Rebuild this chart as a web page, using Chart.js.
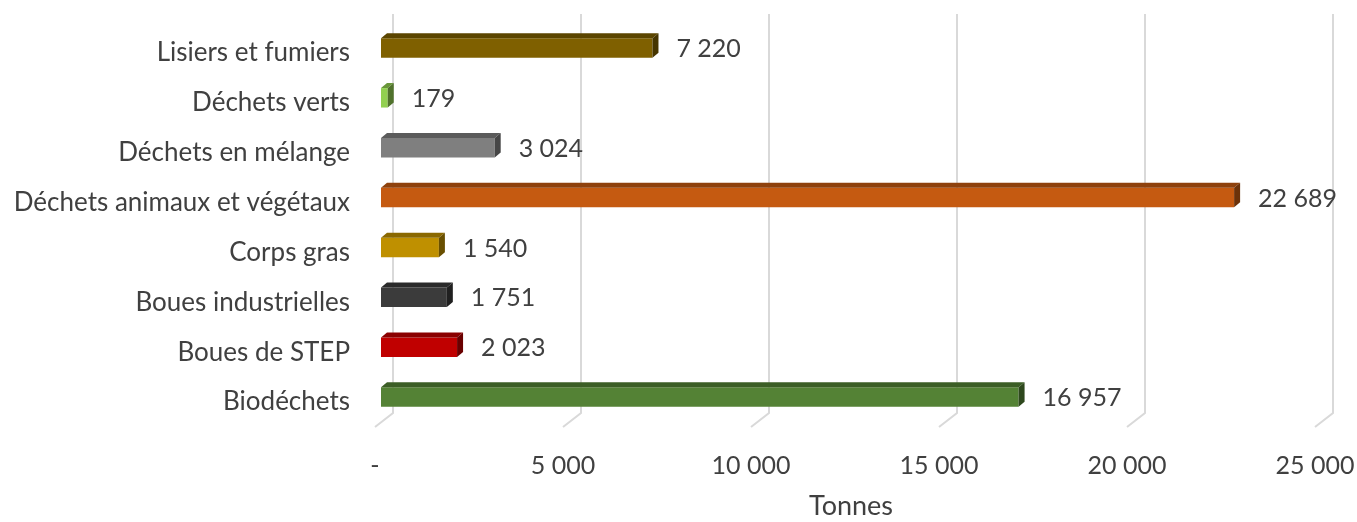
<!DOCTYPE html>
<html>
<head>
<meta charset="utf-8">
<script src="https://cdn.jsdelivr.net/npm/chart.js@4"></script>
<style>
  html, body { margin: 0; padding: 0; background: #fff; }
  #box { width: 1357px; height: 522px; }
</style>
</head>
<body>
<div id="box"><canvas id="graf"></canvas></div>
<script>
// donnees
const categories = ["Lisiers et fumiers", "Déchets verts", "Déchets en mélange", "Déchets animaux et végétaux",
                    "Corps gras", "Boues industrielles", "Boues de STEP", "Biodéchets"];
const tonnes = [7220, 179, 3024, 22689, 1540, 1751, 2023, 16957];
const couleurs = ["#7F6000", "#92D050", "#7F7F7F", "#C55A11", "#BF9000", "#3B3B3B", "#C00000", "#548235"];
const axeTicks = [0, 5000, 10000, 15000, 20000, 25000];

const police = "Lato, 'Open Sans', sans-serif";
const gris = "#404040";

function milliers(v) {
  if (v === 0) return "-";
  return String(v).replace(/\B(?=(\d{3})+(?!\d))/g, " ");
}

function assombrir(hex, f) {
  let r = parseInt(hex.substr(1, 2), 16), g = parseInt(hex.substr(3, 2), 16), b = parseInt(hex.substr(5, 2), 16);
  return "rgb(" + Math.round(r * f) + "," + Math.round(g * f) + "," + Math.round(b * f) + ")";
}

// grille "3D" : mur du fond + pied oblique
const grille3d = {
  id: "grille3d",
  beforeDatasetsDraw(chart) {
    const ctx = chart.ctx, x = chart.scales.x, a = chart.chartArea;
    ctx.save();
    ctx.strokeStyle = "#D9D9D9";
    ctx.lineWidth = 2;
    axeTicks.forEach(v => {
      const px = x.getPixelForValue(v);
      ctx.beginPath();
      ctx.moveTo(px + 12, a.top - 9);
      ctx.lineTo(px + 12, a.bottom - 9);
      ctx.lineTo(px - 6, a.bottom + 5);
      ctx.stroke();
    });
    ctx.restore();
  }
};

// faces du dessus et de cote + etiquettes de valeur
const barres3d = {
  id: "barres3d",
  afterDatasetsDraw(chart) {
    const ctx = chart.ctx;
    const meta = chart.getDatasetMeta(0);
    const dx = 6, dy = -5;
    ctx.save();
    meta.data.forEach((bar, i) => {
      const p = bar.getProps(["x", "y", "base", "height"], true);
      const top = p.y - p.height / 2, bot = p.y + p.height / 2;
      const l = p.base, r = p.x;
      // dessus
      ctx.fillStyle = assombrir(couleurs[i], 0.72);
      ctx.beginPath();
      ctx.moveTo(l, top);
      ctx.lineTo(l + dx, top + dy);
      ctx.lineTo(r + dx, top + dy);
      ctx.lineTo(r, top);
      ctx.closePath();
      ctx.fill();
      // cote
      ctx.fillStyle = assombrir(couleurs[i], 0.55);
      ctx.beginPath();
      ctx.moveTo(r, top);
      ctx.lineTo(r + dx, top + dy);
      ctx.lineTo(r + dx, bot + dy);
      ctx.lineTo(r, bot);
      ctx.closePath();
      ctx.fill();
      // valeur
      ctx.fillStyle = gris;
      ctx.font = "25px " + police;
      ctx.textAlign = "left";
      ctx.textBaseline = "middle";
      ctx.fillText(milliers(tonnes[i]), r + 24, p.y + 1);
    });
    ctx.restore();
  }
};

const ctx = document.getElementById("graf");
new Chart(ctx, {
  type: "bar",
  data: {
    labels: categories,
    datasets: [{
      data: tonnes,
      backgroundColor: couleurs,
      borderWidth: 0,
      barPercentage: 0.78,
      categoryPercentage: 0.5
    }]
  },
  options: {
    indexAxis: "y",
    responsive: true,
    maintainAspectRatio: false,
    animation: false,
    layout: { padding: { top: 23, right: 36, bottom: 0, left: 0 } },
    plugins: { legend: { display: false }, tooltip: { enabled: false } },
    scales: {
      x: {
        min: 0,
        max: 25000,
        afterBuildTicks(s) { s.ticks = axeTicks.map(v => ({ value: v })); },
        afterFit(s) { s.height = 100; s.paddingLeft = 0; s.paddingRight = 0; },
        grid: { display: false, drawTicks: false },
        border: { display: false },
        ticks: {
          padding: 29,
          labelOffset: -6,
          maxRotation: 0,
          color: gris,
          font: { family: police, size: 25 },
          callback: v => milliers(v)
        },
        title: {
          display: true,
          text: "Tonnes",
          color: gris,
          font: { family: police, size: 27 },
          padding: { top: 0, bottom: 0 }
        }
      },
      y: {
        afterFit(s) { s.width = 381; s.paddingTop = 0; s.paddingBottom = 0; },
        grid: { display: false, drawTicks: false },
        border: { display: false },
        ticks: {
          padding: 31,
          labelOffset: 5,
          color: gris,
          font: { family: police, size: 26 }
        }
      }
    }
  },
  plugins: [grille3d, barres3d]
});
</script>
</body>
</html>
